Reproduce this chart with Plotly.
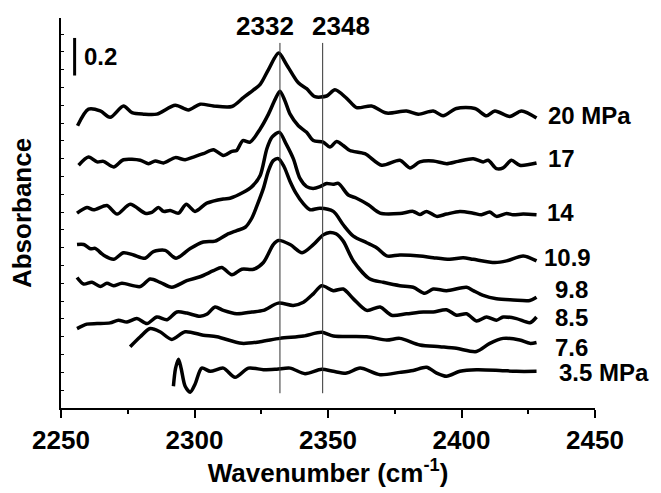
import plotly.graph_objects as go

# ---- data (wavenumber cm^-1, stacked absorbance) ----
wn_20 = [2256.2, 2260.3, 2264.7, 2268.4, 2273.4, 2276.6, 2280.9, 2285.9, 2292.8, 2297.7, 2302.1, 2307.1,
         2314.0, 2318.3, 2322.0, 2324.6, 2327.7, 2331.5, 2334.5, 2338.9, 2342.0, 2345.1, 2349.5, 2352.6,
         2357.0, 2360.7, 2366.3, 2372.0, 2379.4, 2383.8, 2389.4, 2393.1, 2398.1, 2405.0, 2409.4, 2412.5,
         2418.1, 2422.5, 2428.1]
ab_20 = [1.585, 1.678, 1.668, 1.632, 1.696, 1.659, 1.650, 1.650, 1.700, 1.674, 1.706, 1.696,
         1.693, 1.743, 1.785, 1.817, 1.900, 1.993, 1.928, 1.826, 1.793, 1.748, 1.752, 1.787,
         1.739, 1.687, 1.696, 1.656, 1.668, 1.650, 1.668, 1.641, 1.682, 1.682, 1.641, 1.668,
         1.637, 1.668, 1.628]

wn_17 = [2256.6, 2260.3, 2263.5, 2265.9, 2269.7, 2273.4, 2279.7, 2282.8, 2285.3, 2288.4, 2292.8, 2296.5,
         2299.6, 2303.3, 2307.1, 2310.8, 2314.0, 2315.8, 2318.1, 2320.8, 2324.6, 2327.7, 2330.2, 2332.0,
         2333.9, 2335.8, 2338.9, 2342.0, 2344.5, 2348.2, 2350.7, 2353.2, 2355.7, 2358.2, 2363.8, 2370.1,
         2376.9, 2380.7, 2384.4, 2389.4, 2394.4, 2398.7, 2404.4, 2408.1, 2410.0, 2413.1, 2415.6, 2418.7,
         2421.8, 2428.1]
ab_17 = [1.363, 1.409, 1.382, 1.385, 1.354, 1.394, 1.391, 1.372, 1.387, 1.376, 1.406, 1.394,
         1.409, 1.428, 1.450, 1.418, 1.441, 1.446, 1.502, 1.493, 1.567, 1.650, 1.733, 1.779,
         1.724, 1.650, 1.585, 1.548, 1.502, 1.493, 1.465, 1.496, 1.474, 1.446, 1.428, 1.363,
         1.391, 1.348, 1.382, 1.387, 1.372, 1.385, 1.400, 1.382, 1.391, 1.344, 1.348, 1.391,
         1.363, 1.376]

wn_14 = [2256.0, 2259.7, 2262.2, 2267.2, 2271.0, 2275.9, 2281.5, 2284.0, 2286.5, 2288.4, 2290.9, 2294.0,
         2296.9, 2300.2, 2304.6, 2310.8, 2313.3, 2318.3, 2321.5, 2324.6, 2327.1, 2329.1, 2331.8, 2334.3,
         2337.0, 2339.5, 2342.0, 2344.4, 2347.0, 2349.5, 2351.9, 2353.9, 2357.6, 2360.7, 2365.1, 2369.5,
         2376.9, 2381.9, 2384.4, 2386.9, 2390.7, 2394.4, 2399.4, 2404.4, 2407.5, 2410.6, 2413.1, 2416.9,
         2419.3, 2423.1, 2428.1]
ab_14 = [1.094, 1.126, 1.113, 1.137, 1.089, 1.144, 1.094, 1.098, 1.126, 1.104, 1.109, 1.094,
         1.144, 1.104, 1.150, 1.174, 1.178, 1.211, 1.243, 1.306, 1.456, 1.522, 1.548, 1.483,
         1.400, 1.289, 1.243, 1.233, 1.243, 1.261, 1.256, 1.261, 1.196, 1.178, 1.141, 1.094,
         1.092, 1.104, 1.086, 1.104, 1.076, 1.089, 1.104, 1.094, 1.085, 1.100, 1.076, 1.092,
         1.085, 1.089, 1.085]

wn_109 = [2256.0, 2258.5, 2261.0, 2262.8, 2265.9, 2269.7, 2273.4, 2277.2, 2281.5, 2284.6, 2289.0, 2293.1,
          2298.4, 2303.3, 2307.7, 2312.1, 2315.8, 2319.0, 2321.5, 2323.3, 2325.8, 2327.7, 2329.5, 2331.4,
          2333.5, 2335.8, 2338.0, 2340.6, 2343.3, 2347.0, 2352.0, 2355.7, 2359.5, 2364.5, 2368.2, 2372.0,
          2376.9, 2384.4, 2389.4, 2395.6, 2400.6, 2404.4, 2412.5, 2416.9, 2423.1, 2428.1]
ab_109 = [0.918, 0.918, 0.894, 0.896, 0.859, 0.835, 0.872, 0.859, 0.841, 0.878, 0.885, 0.841,
          0.896, 0.932, 0.937, 0.974, 0.996, 1.015, 1.067, 1.132, 1.233, 1.333, 1.389, 1.400,
          1.356, 1.272, 1.206, 1.150, 1.113, 1.122, 1.104, 1.029, 0.965, 0.928, 0.900, 0.854,
          0.859, 0.854, 0.844, 0.835, 0.844, 0.835, 0.817, 0.826, 0.854, 0.826]

wn_98 = [2256.0, 2258.5, 2261.6, 2264.7, 2267.2, 2269.7, 2272.8, 2279.7, 2283.4, 2287.1, 2291.5, 2297.1,
         2302.1, 2307.1, 2310.2, 2314.0, 2317.7, 2322.1, 2325.8, 2329.5, 2331.4, 2335.8, 2340.3, 2344.5,
         2348.2, 2350.7, 2353.0, 2355.7, 2359.5, 2365.7, 2370.7, 2376.9, 2381.9, 2386.3, 2389.4, 2394.4,
         2401.9, 2404.4, 2408.1, 2413.1, 2419.3, 2425.6, 2428.1]
ab_98 = [0.733, 0.696, 0.706, 0.682, 0.700, 0.687, 0.700, 0.682, 0.724, 0.706, 0.678, 0.715,
         0.737, 0.771, 0.789, 0.748, 0.779, 0.779, 0.817, 0.918, 0.941, 0.918, 0.872, 0.917,
         0.972, 0.986, 0.978, 0.937, 0.826, 0.724, 0.706, 0.687, 0.678, 0.644, 0.668, 0.659,
         0.678, 0.659, 0.632, 0.613, 0.607, 0.604, 0.622]

wn_85 = [2256.0, 2259.7, 2263.5, 2268.4, 2271.5, 2274.7, 2278.4, 2282.2, 2285.9, 2289.7, 2293.4, 2297.1,
         2302.1, 2304.6, 2307.7, 2310.8, 2315.8, 2321.5, 2325.8, 2331.4, 2337.0, 2340.8, 2344.5, 2347.6,
         2352.0, 2355.7, 2359.5, 2364.5, 2369.5, 2373.8, 2379.4, 2385.7, 2389.4, 2394.4, 2398.1, 2401.9,
         2405.6, 2409.4, 2413.1, 2415.6, 2420.6, 2425.6, 2428.1]
ab_85 = [0.446, 0.471, 0.474, 0.478, 0.493, 0.483, 0.502, 0.474, 0.511, 0.496, 0.539, 0.533,
         0.515, 0.526, 0.567, 0.548, 0.529, 0.539, 0.548, 0.589, 0.576, 0.594, 0.641, 0.687,
         0.659, 0.668, 0.613, 0.548, 0.567, 0.521, 0.529, 0.539, 0.539, 0.552, 0.521, 0.529,
         0.489, 0.511, 0.493, 0.511, 0.502, 0.479, 0.511]

wn_76 = [2275.9, 2279.7, 2283.4, 2287.1, 2291.5, 2296.5, 2303.3, 2308.4, 2317.7, 2324.6, 2332.0, 2340.8,
         2347.6, 2352.0, 2364.5, 2372.0, 2376.9, 2384.4, 2391.9, 2398.1, 2405.6, 2410.6, 2415.6, 2421.8,
         2425.6, 2428.1]
ab_76 = [0.344, 0.400, 0.446, 0.428, 0.385, 0.428, 0.409, 0.400, 0.363, 0.372, 0.391, 0.404,
         0.425, 0.404, 0.400, 0.382, 0.391, 0.354, 0.344, 0.335, 0.317, 0.363, 0.391, 0.382,
         0.363, 0.368]

wn_35 = [2292.1, 2292.9, 2294.0, 2295.0, 2296.5, 2298.4, 2300.2, 2302.7, 2305.9, 2310.8, 2315.2, 2320.2,
         2325.8, 2330.8, 2335.8, 2341.4, 2347.6, 2352.0, 2357.0, 2362.0, 2369.5, 2376.9, 2381.9, 2386.9,
         2390.7, 2394.4, 2399.4, 2405.6, 2414.3, 2420.6, 2428.1]
ab_35 = [0.122, 0.222, 0.274, 0.222, 0.122, 0.089, 0.133, 0.224, 0.206, 0.224, 0.172, 0.224,
         0.215, 0.218, 0.224, 0.193, 0.218, 0.206, 0.196, 0.224, 0.187, 0.200, 0.211, 0.229,
         0.196, 0.178, 0.206, 0.215, 0.211, 0.206, 0.206]

series = [(wn_20, ab_20), (wn_17, ab_17), (wn_14, ab_14), (wn_109, ab_109),
          (wn_98, ab_98), (wn_85, ab_85), (wn_76, ab_76), (wn_35, ab_35)]

# right-side labels: text, x (cm^-1), y
label_text = ["20 MPa", "17", "14", "10.9", "9.8", "8.5", "7.6", "3.5 MPa"]
label_x = [2431.9, 2431.9, 2431.6, 2430.4, 2434.5, 2434.5, 2434.5, 2436.0]
label_y = [1.644, 1.40, 1.10, 0.844, 0.667, 0.506, 0.340, 0.200]

ref_lines = [2332, 2348]
ref_text = ["2332", "2348"]
ref_text_x = [2326.5, 2354.8]

# scale bar (absorbance units)
bar_x = 2255.1
bar_y = [1.867, 2.078]
bar_text = "0.2"

FONT = "Liberation Sans, Arial, sans-serif"
FS = 26
FS_LAB = 24

fig = go.Figure()
for wx, ay in series:
    fig.add_trace(go.Scatter(x=wx, y=ay, mode="lines",
                             line=dict(color="black", width=3.5, shape="spline", smoothing=0.8),
                             showlegend=False, hoverinfo="skip"))

for xv in ref_lines:
    fig.add_shape(type="line", x0=xv, x1=xv, y0=0.083, y1=2.05, xref="x", yref="y",
                  line=dict(color="#333333", width=1))

for t, xv in zip(ref_text, ref_text_x):
    fig.add_annotation(x=xv, y=2.144, text="<b>%s</b>" % t, showarrow=False,
                       xanchor="center", yanchor="middle",
                       font=dict(family=FONT, size=FS, color="black"))

for t, xv, yv in zip(label_text, label_x, label_y):
    fig.add_annotation(x=xv, y=yv, text="<b>%s</b>" % t, showarrow=False,
                       xanchor="left", yanchor="middle", borderpad=0,
                       font=dict(family=FONT, size=FS_LAB, color="black"))

fig.add_shape(type="line", x0=bar_x, x1=bar_x, y0=bar_y[0], y1=bar_y[1], xref="x", yref="y",
              line=dict(color="black", width=3))
fig.add_annotation(x=2258.0, y=sum(bar_y) / 2, text="<b>%s</b>" % bar_text, showarrow=False,
                   xanchor="left", yanchor="middle",
                   font=dict(family=FONT, size=FS_LAB, color="black"))

fig.update_layout(
    width=661, height=493,
    margin=dict(l=61, r=66, t=18, b=81),
    paper_bgcolor="white", plot_bgcolor="white",
    font=dict(family=FONT, size=FS, color="black"),
    xaxis=dict(range=[2250, 2450], tickmode="linear", tick0=2250, dtick=50,
               ticks="outside", ticklen=8, tickwidth=1.5, tickcolor="black",
               minor=dict(dtick=25, ticks="outside", ticklen=4, tickwidth=1.5, tickcolor="black"),
               showline=True, linecolor="black", linewidth=1.5, mirror=False,
               showgrid=False, zeroline=False,
               tickfont=dict(family=FONT, size=FS, weight="bold"),
               title=dict(text="<b>Wavenumber (cm<sup>-1</sup>)</b>", standoff=8,
                          font=dict(family=FONT, size=FS))),
    yaxis=dict(range=[0, 2.19], tickmode="linear", tick0=0, dtick=0.1,
               ticks="inside", ticklen=3, tickwidth=1, tickcolor="black",
               showticklabels=False,
               showline=True, linecolor="black", linewidth=1.5, mirror=False,
               showgrid=False, zeroline=False,
               title=dict(text="<b>Absorbance</b>", standoff=20,
                          font=dict(family=FONT, size=FS))),
)

fig.write_html("out.html")
